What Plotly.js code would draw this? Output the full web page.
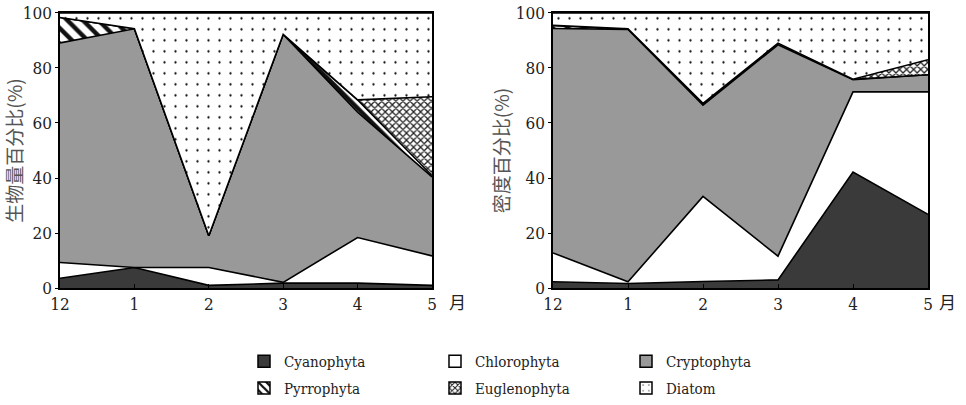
<!DOCTYPE html>
<html><head><meta charset="utf-8">
<script src="https://cdn.plot.ly/plotly-3.0.1.min.js"></script>
<style>html,body{margin:0;padding:0;background:#fff}#chart{width:966px;height:405px}</style>
</head><body><div id="chart"></div>
<script>
// ---- data ----
const months = ["12", "1", "2", "3", "4", "5"];
const monthPos = [0, 1, 2, 3, 4, 5];
const groups = ["Cyanophyta", "Chlorophyta", "Cryptophyta", "Pyrrophyta", "Euglenophyta", "Diatom"];

// biomass percentage (%), left panel
const biomassCyanophyta   = [3.6, 7.5, 1.0, 1.8, 1.8, 1.0];
const biomassChlorophyta  = [5.7, 0.0, 6.5, 0.3, 16.6, 10.7];
const biomassCryptophyta  = [79.8, 86.7, 11.5, 90.1, 45.5, 28.7];
const biomassPyrrophyta   = [9.2, 0.0, 0.0, 0.0, 4.5, 0.5];
const biomassEuglenophyta = [0.0, 0.0, 0.0, 0.0, 0.0, 28.6];
const biomassDiatom       = [1.7, 5.8, 81.0, 7.8, 31.6, 30.5];

// density percentage (%), right panel
const densityCyanophyta   = [2.3, 1.7, 2.4, 3.0, 42.2, 26.8];
const densityChlorophyta  = [10.5, 0.6, 30.9, 8.6, 29.1, 44.5];
const densityCryptophyta  = [81.5, 91.7, 33.2, 76.8, 4.4, 6.2];
const densityPyrrophyta   = [1.0, 0.2, 0.6, 0.6, 0.2, 0.0];
const densityEuglenophyta = [0.2, 0.0, 0.0, 0.0, 0.0, 5.5];
const densityDiatom       = [4.5, 5.8, 32.9, 11.0, 24.1, 17.0];

const yTickVals = [0, 20, 40, 60, 80, 100];
const yTitleLeft = "生物量百分比(%)";
const yTitleRight = "密度百分比(%)";
const monthUnit = "月";

// ---- styles ----
const serif = "DejaVu Serif Condensed, DejaVu Serif";
const cjk = "Noto Sans CJK SC";
const styles = {
  Cyanophyta:   {fill: "#3a3a3a"},
  Chlorophyta:  {fill: "#ffffff"},
  Cryptophyta:  {fill: "#999999"},
  Pyrrophyta:   {fill: "#ffffff", pattern: {shape: "\\", fgcolor: "#111", bgcolor: "#fff", size: 11, solidity: 0.4, fillmode: "replace"}},
  Euglenophyta: {fill: "#ffffff", pattern: {shape: "x", fgcolor: "#222", bgcolor: "#fff", size: 5, solidity: 0.45, fillmode: "replace"}},
  Diatom:       {fill: "#ffffff", pattern: {shape: ".", fgcolor: "#111", bgcolor: "#fff", size: 11, solidity: 0.035, fillmode: "replace"}}
};

const biomass = [biomassCyanophyta, biomassChlorophyta, biomassCryptophyta, biomassPyrrophyta, biomassEuglenophyta, biomassDiatom];
const density = [densityCyanophyta, densityChlorophyta, densityCryptophyta, densityPyrrophyta, densityEuglenophyta, densityDiatom];

const traces = [];
function addStack(values, xa, ya, grp) {
  groups.forEach((g, i) => {
    const st = styles[g];
    const t = {
      type: "scatter", mode: "lines", x: monthPos, y: values[i], name: g,
      xaxis: xa, yaxis: ya, stackgroup: grp, showlegend: false, hoverinfo: "skip",
      line: {color: "#000", width: 1.6, shape: "linear"},
      fillcolor: st.fill
    };
    if (st.pattern) t.fillpattern = st.pattern;
    traces.push(t);
  });
}
addStack(biomass, "x", "y", "left");
addStack(density, "x2", "y2", "right");

// legend swatches (bar traces on a hidden axis)
groups.forEach((g, i) => {
  const st = styles[g];
  const m = {color: st.fill, line: {color: "#000", width: 1.5}};
  if (st.pattern) m.pattern = Object.assign({}, st.pattern, {size: Math.min(st.pattern.size, 7)});
  traces.push({
    type: "bar", x: [0], y: [null], name: g, xaxis: "x3", yaxis: "y3",
    marker: m, showlegend: true, legend: i < 3 ? "legend" : "legend2", hoverinfo: "skip"
  });
});

const tickFont = {family: serif, size: 17, color: "#222"};
const xAxisBase = {
  range: [0, 5], tickvals: monthPos, ticktext: months, ticks: "inside", ticklen: 4,
  tickcolor: "#000", showline: true, linecolor: "#000", linewidth: 1.6, mirror: true,
  showgrid: false, zeroline: false, fixedrange: true, tickfont: tickFont
};
const yAxisBase = {
  range: [0, 100], tickvals: yTickVals, ticks: "outside", ticklen: 3, tickcolor: "#000",
  showline: true, linecolor: "#000", linewidth: 1.6, mirror: true, showgrid: false, zeroline: false,
  fixedrange: true, tickfont: tickFont
};

const yTop = 1 - 13 / 405, yBot = 1 - 291 / 405;
const legendBase = {orientation: "h", xanchor: "left", yanchor: "middle", traceorder: "normal",
  entrywidth: 146, entrywidthmode: "pixels", bgcolor: "rgba(0,0,0,0)",
  font: {family: serif, size: 15, color: "#222"}, itemclick: false, itemdoubleclick: false};
const layout = {
  width: 966, height: 405, margin: {l: 0, r: 0, t: 0, b: 0},
  paper_bgcolor: "#fff", plot_bgcolor: "#fff", showlegend: true,
  xaxis: Object.assign({}, xAxisBase, {domain: [60 / 966, 432 / 966], anchor: "y"}),
  yaxis: Object.assign({}, yAxisBase, {domain: [yBot, yTop], anchor: "x",
    title: {text: yTitleLeft, standoff: 1, font: {family: cjk, size: 19, color: "#555"}}}),
  xaxis2: Object.assign({}, xAxisBase, {domain: [553 / 966, 928 / 966], anchor: "y2"}),
  yaxis2: Object.assign({}, yAxisBase, {domain: [yBot, yTop], anchor: "x2",
    title: {text: yTitleRight, standoff: 1, font: {family: cjk, size: 19, color: "#555"}}}),
  xaxis3: {domain: [0, 0.001], visible: false, anchor: "y3", fixedrange: true},
  yaxis3: {domain: [0, 0.001], visible: false, anchor: "x3", fixedrange: true},
  legend: Object.assign({}, legendBase, {x: 244 / 966, y: 1 - 365 / 405}),
  legend2: Object.assign({}, legendBase, {x: 244 / 966, y: 1 - 392 / 405}),
  annotations: [
    {text: monthUnit, xref: "paper", yref: "paper", x: 457 / 966, y: 1 - 305 / 405, showarrow: false,
     xanchor: "center", yanchor: "middle", font: {family: cjk, size: 17, color: "#222"}},
    {text: monthUnit, xref: "paper", yref: "paper", x: 947 / 966, y: 1 - 305 / 405, showarrow: false,
     xanchor: "center", yanchor: "middle", font: {family: cjk, size: 17, color: "#222"}}
  ]
};

Plotly.newPlot("chart", traces, layout, {displayModeBar: false, staticPlot: true});
</script>
</body></html>
